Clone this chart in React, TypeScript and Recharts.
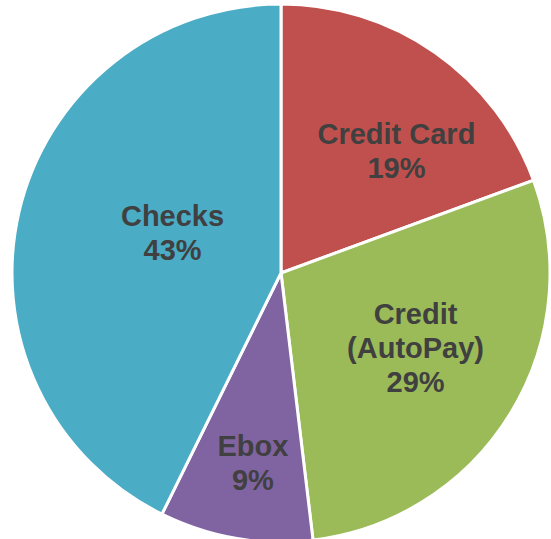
import { PieChart, Pie, Cell } from 'recharts'

const methods = ['Credit Card', 'Credit (AutoPay)', 'Ebox', 'Checks']
const shares = [19.4, 28.7, 9.2, 42.7]
const colors = ['#C0504D', '#9BBB59', '#8064A2', '#4BACC6']
// label text lines per slice
const labelLines = [['Credit Card', '19%'], ['Credit', '(AutoPay)', '29%'], ['Ebox', '9%'], ['Checks', '43%']]

const data = methods.map((name, i) => ({ name, value: shares[i] }))

// best-fit style label placement: radius and angle tweak per slice
const labelDist = [0.623, 0.573, 0.713, 0.43]
const labelShift = [-8.6, 2.3, 1.3, -7.2]

const RADIAN = Math.PI / 180

function renderLabel(props: any) {
  const { cx, cy, outerRadius, midAngle, index } = props
  const r = outerRadius * labelDist[index]
  const a = (midAngle + labelShift[index]) * RADIAN
  const x = cx + r * Math.cos(a)
  const y = cy - r * Math.sin(a)
  const lines = labelLines[index]
  const lh = 34
  const top = y - ((lines.length - 1) * lh) / 2
  return (
    <text
      x={x}
      y={top}
      textAnchor="middle"
      dominantBaseline="central"
      fill="#404040"
      fontSize={29}
      fontWeight="bold"
      fontFamily="'Liberation Sans', Arial, sans-serif"
    >
      {lines.map((l, k) => (
        <tspan key={k} x={x} dy={k === 0 ? 0 : lh}>
          {l}
        </tspan>
      ))}
    </text>
  )
}

export default function App() {
  return (
    <div style={{ position: 'absolute', left: 0, top: 0, width: 551, height: 539, background: '#fff' }}>
      <PieChart width={551} height={539} margin={{ top: 0, right: 0, bottom: 0, left: 0 }}>
        <Pie
          data={data}
          dataKey="value"
          nameKey="name"
          cx={281}
          cy={273}
          outerRadius={269}
          startAngle={90}
          endAngle={-270}
          stroke="#fff"
          strokeWidth={3}
          label={renderLabel}
          labelLine={false}
          isAnimationActive={false}
        >
          {data.map((d, i) => (
            <Cell key={d.name} fill={colors[i]} />
          ))}
        </Pie>
      </PieChart>
    </div>
  )
}
